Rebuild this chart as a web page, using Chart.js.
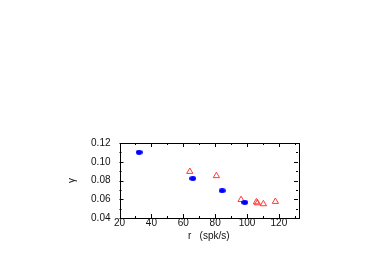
<!DOCTYPE html>
<html>
<head>
<meta charset="utf-8">
<script src="https://cdn.jsdelivr.net/npm/chart.js@4"></script>
<style>
  html, body { margin: 0; padding: 0; background: #fff; }
  #wrap { width: 382px; height: 273px; }
</style>
</head>
<body>
<div id="wrap"><canvas id="chart" width="382" height="273"></canvas></div>
<script>
// rates (spk/s) and gamma values
const blueRate = [32.3, 66.0, 84.4, 98.6];
const blueGamma = [0.110, 0.082, 0.069, 0.0565];
const redRate = [64.1, 80.8, 96.3, 105.9, 106.6, 110.3, 117.8];
const redGamma = [0.0895, 0.085, 0.0595, 0.057, 0.056, 0.055, 0.0575];
const xTicks = [20, 40, 60, 80, 100, 120];
const yTicks = [0.04, 0.06, 0.08, 0.10, 0.12];

const font = "'Liberation Sans', Arial, sans-serif";

// small filled ellipse for the blue points
const dot = document.createElement("canvas");
dot.width = 7; dot.height = 5;
const dctx = dot.getContext("2d");
dctx.fillStyle = "#0000ff";
dctx.beginPath();
dctx.ellipse(3.5, 2.5, 3.4, 2.4, 0, 0, Math.PI * 2);
dctx.fill();

function toPoints(xs, ys) {
  return xs.map((x, i) => ({ x: x, y: ys[i] }));
}

// gnuplot style inward ticks on all four sides
const tickMarks = {
  id: "tickMarks",
  afterDraw(chart) {
    const { ctx, chartArea: a, scales } = chart;
    ctx.save();
    ctx.strokeStyle = "#000";
    ctx.lineWidth = 1;
    ctx.beginPath();
    for (let v = 20; v <= 130; v += 10) {
      const px = Math.round(scales.x.getPixelForValue(v)) + 0.5;
      const len = v % 20 === 0 ? 4 : 2;
      ctx.moveTo(px, a.bottom); ctx.lineTo(px, a.bottom - len);
      ctx.moveTo(px, a.top); ctx.lineTo(px, a.top + len);
    }
    for (let k = 4; k <= 12; k++) {
      const py = Math.round(scales.y.getPixelForValue(k / 100)) + 0.5;
      const len = k % 2 === 0 ? 4 : 2;
      ctx.moveTo(a.left, py); ctx.lineTo(a.left + len, py);
      ctx.moveTo(a.right, py); ctx.lineTo(a.right - len, py);
    }
    ctx.stroke();
    ctx.strokeRect(Math.round(a.left) + 0.5, Math.round(a.top) + 0.5,
      Math.round(a.right - a.left), Math.round(a.bottom - a.top));
    ctx.restore();
  }
};

new Chart(document.getElementById("chart"), {
  type: "scatter",
  data: {
    datasets: [
      {
        data: toPoints(blueRate, blueGamma),
        pointStyle: dot,
        pointRadius: 3
      },
      {
        data: toPoints(redRate, redGamma),
        pointStyle: "triangle",
        pointRadius: 3.6,
        borderColor: "#ff3a3a",
        backgroundColor: "rgba(0,0,0,0)",
        borderWidth: 1
      }
    ]
  },
  options: {
    responsive: false,
    animation: false,
    events: [],
    layout: { padding: { left: 66, right: 84, top: 143, bottom: 31 } },
    plugins: { legend: { display: false }, tooltip: { enabled: false } },
    scales: {
      x: {
        type: "linear",
        min: 20,
        max: 132,
        afterBuildTicks: (s) => { s.ticks = xTicks.map(v => ({ value: v })); },
        afterFit: (s) => { s.height = 24; },
        grid: { display: false, drawTicks: false },
        border: { display: false },
        ticks: { color: "#111", padding: -1, font: { family: font, size: 10 } },
        title: {
          display: true,
          text: "r   (spk/s)",
          color: "#111",
          padding: { top: 0, bottom: 0 },
          font: { family: font, size: 10 }
        }
      },
      y: {
        type: "linear",
        min: 0.04,
        max: 0.12,
        afterBuildTicks: (s) => { s.ticks = yTicks.map(v => ({ value: v })); },
        afterFit: (s) => { s.width = 53.5; },
        grid: { display: false, drawTicks: false },
        border: { display: false },
        ticks: {
          color: "#111",
          padding: 9,
          font: { family: font, size: 10 },
          callback: (v) => v.toFixed(2)
        },
        title: {
          display: true,
          text: "γ",
          color: "#111",
          padding: { top: 0, bottom: 0 },
          font: { family: font, size: 10 }
        }
      }
    }
  },
  plugins: [tickMarks]
});
</script>
</body>
</html>
